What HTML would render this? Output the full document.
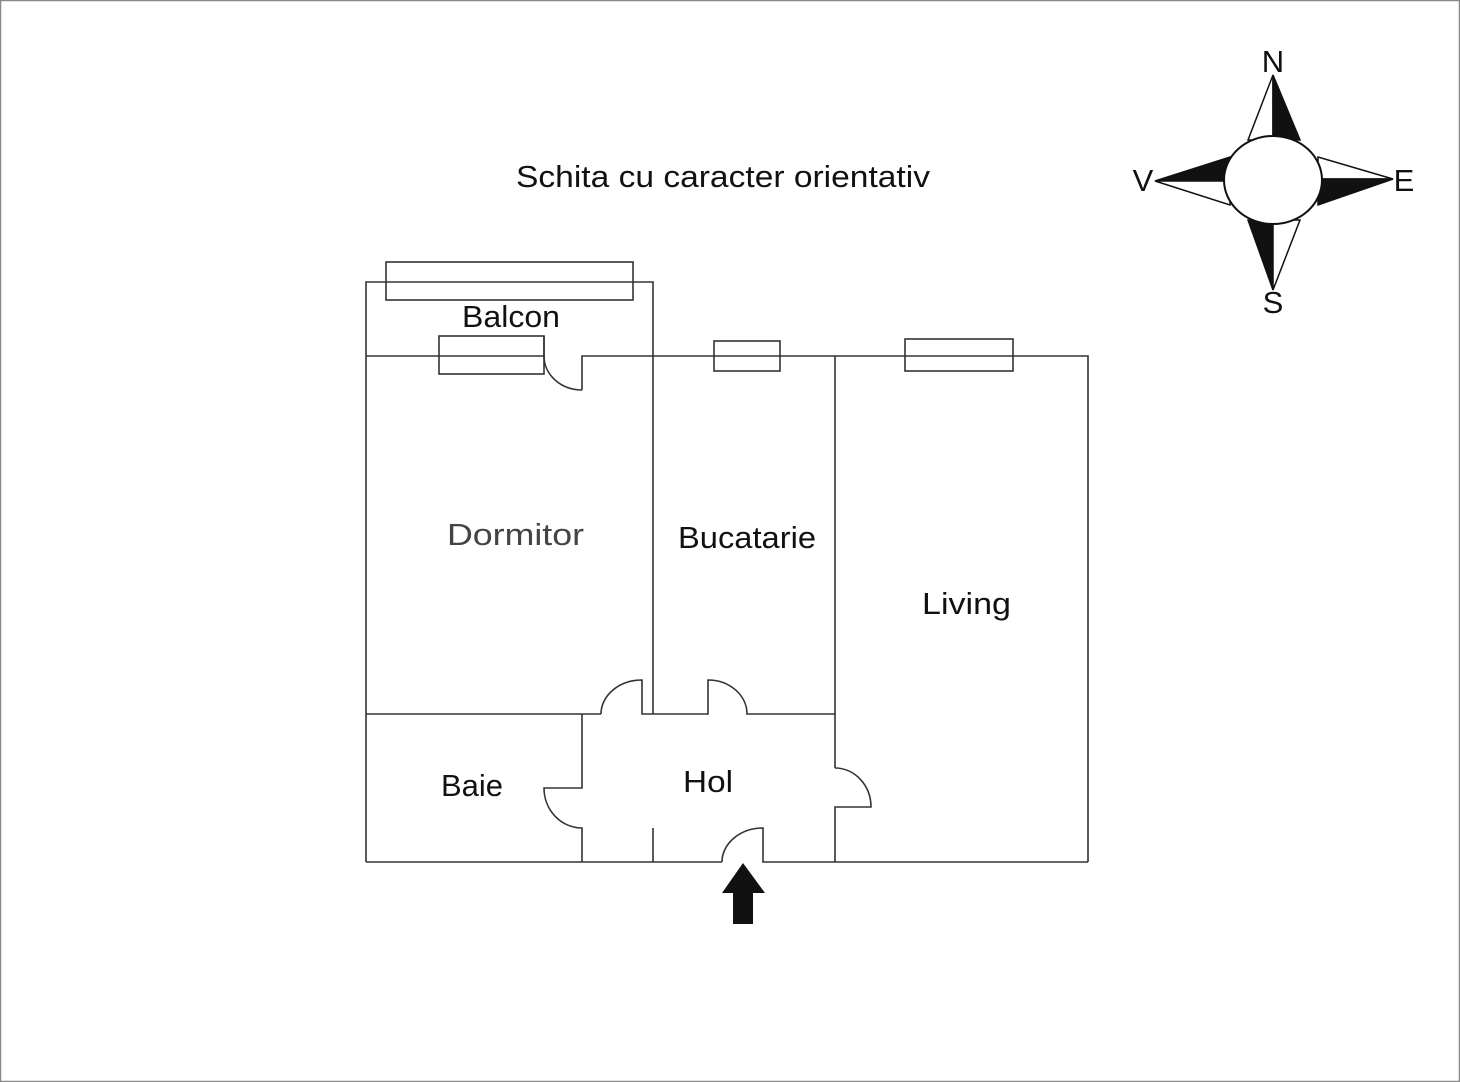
<!DOCTYPE html>
<html><head><meta charset="utf-8"><style>
html,body{margin:0;padding:0;background:#fff;}
svg{display:block;}
text{font-family:"Liberation Sans",sans-serif;font-size:31px;fill:#111;}
</style></head><body>
<svg width="1460" height="1082" viewBox="0 0 1460 1082" xmlns="http://www.w3.org/2000/svg">
<rect x="0.5" y="0.5" width="1459" height="1081" fill="#fff" stroke="#888" stroke-width="1.5"/>
<g fill="none" stroke="#333" stroke-width="1.6">
<!-- balcony -->
<polyline points="366,862 366,282 653,282 653,714"/>
<rect x="386" y="262" width="247" height="38"/>
<!-- top wall -->
<line x1="366" y1="356" x2="544" y2="356"/>
<rect x="439" y="336" width="105" height="38"/>
<line x1="544" y1="336" x2="544" y2="356"/>
<path d="M544,356 A38,34 0 0 0 582,390"/>
<polyline points="582,390 582,356 1088,356 1088,862"/>
<rect x="714" y="341" width="66" height="30"/>
<rect x="905" y="339" width="108" height="32"/>
<!-- living left wall -->
<polyline points="835,356 835,768"/>
<path d="M835,768 A36,39 0 0 1 871,807 L835,807 L835,862"/>
<!-- bottom wall -->
<line x1="366" y1="862" x2="722" y2="862"/>
<path d="M722,862 A41,34 0 0 1 763,828 L763,862 L1088,862"/>
<!-- dormitor bottom -->
<line x1="366" y1="714" x2="601" y2="714"/>
<path d="M601,714 A41,34 0 0 1 642,680 L642,714 L653,714"/>
<!-- bucatarie bottom -->
<path d="M653,714 L708,714 L708,680 A39,34 0 0 1 747,714 L835,714"/>
<!-- baie -->
<path d="M582,714 L582,788 L544,788 A38,40 0 0 0 582,828 L582,862"/>
<line x1="653" y1="828" x2="653" y2="862"/>
</g>
<!-- arrow -->
<polygon points="743,863 765,893 753,893 753,924 733,924 733,893 722,893" fill="#111"/>
<!-- compass -->
<g stroke="#111" stroke-width="1.5">
<polygon points="1273,75 1248,140 1273,140" fill="#fff"/>
<polygon points="1273,75 1300,140 1273,140" fill="#111"/>
<polygon points="1273,290 1248,220 1273,220" fill="#111"/>
<polygon points="1273,290 1300,220 1273,220" fill="#fff"/>
<polygon points="1155,181 1230,157 1230,181" fill="#111"/>
<polygon points="1155,181 1230,205 1230,181" fill="#fff"/>
<polygon points="1393,179 1318,157 1318,179" fill="#fff"/>
<polygon points="1393,179 1318,205 1318,179" fill="#111"/>
<ellipse cx="1273" cy="180" rx="49" ry="44" fill="#fff" stroke-width="2"/>
</g>
<g style="font-size:30px">
<text x="1273" y="72" text-anchor="middle">N</text>
<text x="1143" y="191" text-anchor="middle">V</text>
<text x="1404" y="191" text-anchor="middle">E</text>
<text x="1273" y="313" text-anchor="middle">S</text>
</g>
<text x="516" y="187" textLength="414" lengthAdjust="spacingAndGlyphs">Schita cu caracter orientativ</text>
<text x="462" y="327" textLength="98" lengthAdjust="spacingAndGlyphs">Balcon</text>
<text x="447" y="545" textLength="137" lengthAdjust="spacingAndGlyphs" style="fill:#444">Dormitor</text>
<text x="678" y="548" textLength="138" lengthAdjust="spacingAndGlyphs">Bucatarie</text>
<text x="922" y="614" textLength="89" lengthAdjust="spacingAndGlyphs">Living</text>
<text x="441" y="796" textLength="62" lengthAdjust="spacingAndGlyphs">Baie</text>
<text x="683" y="792" textLength="50" lengthAdjust="spacingAndGlyphs">Hol</text>
</svg>
</body></html>
